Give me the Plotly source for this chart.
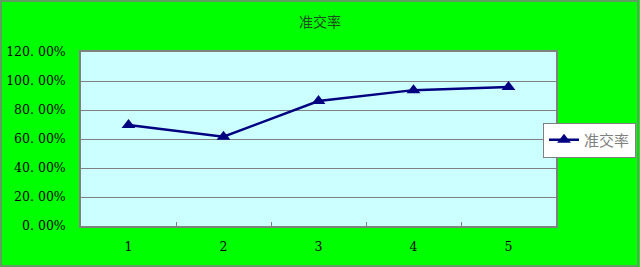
import plotly.graph_objects as go

categories = ["1", "2", "3", "4", "5"]
rate = [0.697, 0.616, 0.862, 0.937, 0.958]
series_name = "准交率"
y_ticks = [0, 0.2, 0.4, 0.6, 0.8, 1.0, 1.2]
y_ticklabels = ["0. 00%", "20. 00%", "40. 00%", "60. 00%", "80. 00%", "100. 00%", "120. 00%"]

W, H = 640, 267
ml, mr, mt, mb = 81, 84, 52, 41
pw, ph = W - ml - mr, H - mt - mb

fig = go.Figure()
fig.add_trace(go.Scatter(
    x=categories, y=rate, name=series_name, mode="lines+markers",
    line=dict(color="#000080", width=2.5),
    marker=dict(symbol="triangle-up", size=12, color="#000080"),
))

font_family = "DejaVu Serif, serif"
fig.update_layout(
    width=W, height=H,
    margin=dict(l=ml, r=mr, t=mt, b=mb, autoexpand=False),
    paper_bgcolor="#00FF00", plot_bgcolor="#CCFFFF",
    title=dict(text=series_name, x=0.5, xanchor="center", y=1 - 22 / H, yanchor="middle",
               font=dict(family="Noto Sans CJK SC", size=14, color="#1a4d1a")),
    font=dict(family=font_family, size=12.5, color="#000000"),
    showlegend=True,
    legend=dict(x=(543 - ml) / pw, y=(H - mb - 140) / ph, xanchor="left", yanchor="middle",
                bgcolor="#FFFFFF", bordercolor="#808080", borderwidth=1,
                font=dict(family="Noto Sans CJK SC", size=15, color="#808080"),
                itemwidth=30, tracegroupgap=0, indentation=0),
    xaxis=dict(type="category", range=[-0.5, 4.5], showgrid=False, showline=True,
               linecolor="#808080", linewidth=1.5, automargin=False,
               mirror=True, ticks="inside", tickson="boundaries", ticklen=4, tickcolor="#808080",
               tickfont=dict(family=font_family, size=12.5), ticklabelstandoff=8),
    yaxis=dict(range=[0, 1.2], tickvals=y_ticks, ticktext=y_ticklabels, showgrid=True,
               gridcolor="#808080", gridwidth=1, showline=True, linecolor="#808080", linewidth=1.5,
               mirror=True, ticks="", zeroline=False, automargin=False,
               tickfont=dict(family=font_family, size=12.5), ticklabelstandoff=11),
)

# outer chart border
fig.add_shape(type="rect", xref="paper", yref="paper",
              x0=(1 - ml) / pw, x1=(W - 2 - ml) / pw,
              y0=-(mb - 1) / ph, y1=(H - mb - 1) / ph,
              line=dict(color="#808080", width=1.5), layer="below")

fig.write_html("out.html")
